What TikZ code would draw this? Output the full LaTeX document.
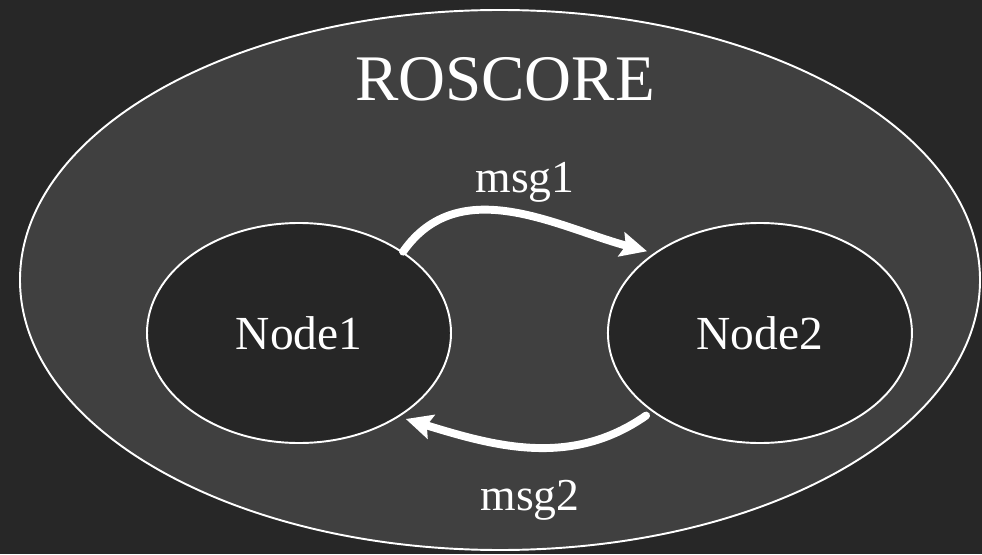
\documentclass[tikz,border=0pt]{standalone}
\usepackage{fontspec}
\setmainfont{Liberation Serif}
\usetikzlibrary{shapes.geometric,arrows.meta,positioning}
\definecolor{bgdark}{HTML}{272727}
\definecolor{coregray}{HTML}{404040}
\definecolor{nodedark}{HTML}{262626}
\tikzstyle{msgline} = [white,line width=4.5pt,line cap=round,-{Stealth[length=15pt,width=14pt,inset=2.5pt]}]
\tikzset{
corestyle/.style= {ellipse, draw=white, line width=1.1pt, fill=coregray, minimum width=19.2cm, minimum height=10.8cm, inner sep=0pt},
nodestyle/.style= {ellipse, draw=white, line width=1.1pt, fill=nodedark, minimum width=6.08cm, minimum height=4.4cm, inner sep=0pt, text=white, font=\fontsize{27}{32}\selectfont},
labelstyle/.style= {text=white, inner sep=0pt, font=\fontsize{26}{30}\selectfont}
}
\begin{document}
\begin{tikzpicture}

% dark backdrop, also fixes the page size
\fill[bgdark] (0,0) rectangle (19.64,11.08);

% the outer ellipse with its title
\node[corestyle] (core) at (10,5.48) {};
\node[labelstyle, font=\fontsize{37}{42}\selectfont] (title) at (10.1,9.5) {ROSCORE};

% the two nodes inside
\node[nodestyle] (n1) at (5.98,4.42) {Node1};
\node[nodestyle, right=3.1cm of n1] (n2) {Node2};

% messages between them
\node[labelstyle, anchor=base] (m1) at (10.5,7.22) {msg1};
\node[labelstyle, anchor=base] (m2) at (10.6,0.88) {msg2};

\draw[msgline, shorten >=4pt] (n1.38) to[out=55,in=165] (n2.143);
\draw[msgline, shorten <=4pt, shorten >=4pt] (n2.216) to[out=215,in=-17] (n1.-40);

\end{tikzpicture}
\end{document}
